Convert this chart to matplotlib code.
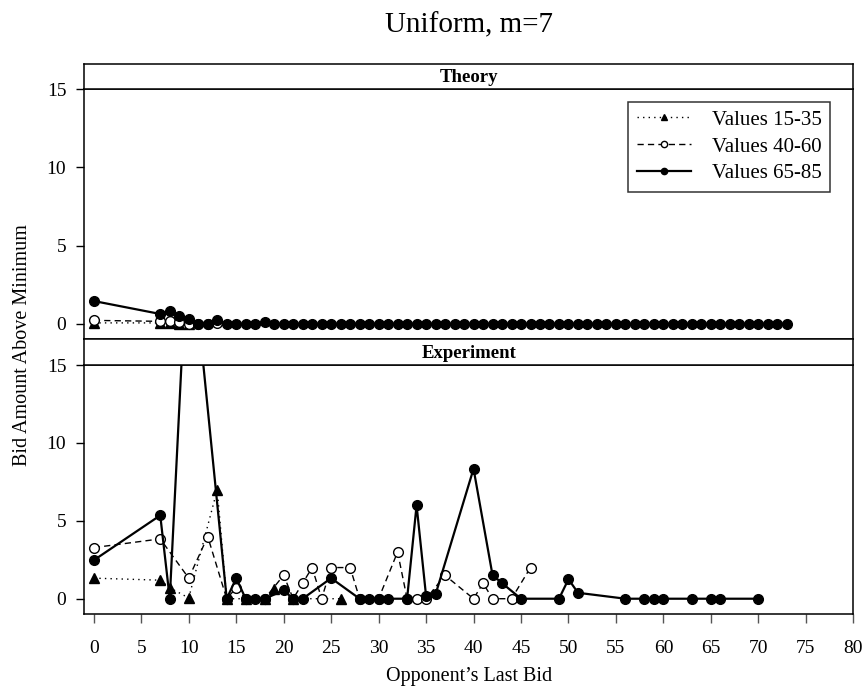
import matplotlib
matplotlib.use("Agg")
import matplotlib.pyplot as plt

plt.rcParams['font.family'] = ['Liberation Serif', 'DejaVu Serif']

series_names = ["Values 15-35", "Values 40-60", "Values 65-85"]
x_ticks = [0, 5, 10, 15, 20, 25, 30, 35, 40, 45, 50, 55, 60, 65, 70, 75, 80]
y_ticks = [0, 5, 10, 15]

# Theory panel
theory_x_low = [0, 7, 8, 9, 10]
theory_y_low = [0.05, 0.05, 0.05, 0.0, 0.0]
theory_x_mid = [0, 7, 8, 9, 10, 11, 12, 13]
theory_y_mid = [0.21, 0.15, 0.15, 0.08, 0.0, 0.0, 0.0, 0.05]
theory_x_high = [0, 7, 8, 9, 10, 11, 12, 13, 14, 15, 16, 17, 18,
                 19, 20, 21, 22, 23, 24, 25, 26, 27, 28, 29, 30, 31, 32,
                 33, 34, 35, 36, 37, 38, 39, 40, 41, 42, 43, 44, 45, 46,
                 47, 48, 49, 50, 51, 52, 53, 54, 55, 56, 57, 58, 59, 60,
                 61, 62, 63, 64, 65, 66, 67, 68, 69, 70, 71, 72, 73]
theory_y_high = [1.45, 0.62, 0.79, 0.47, 0.30, 0, 0, 0.26, 0, 0, 0, 0, 0.08,
                 0, 0, 0, 0, 0, 0, 0, 0, 0, 0, 0, 0, 0, 0,
                 0, 0, 0, 0, 0, 0, 0, 0, 0, 0, 0, 0, 0, 0,
                 0, 0, 0, 0, 0, 0, 0, 0, 0, 0, 0, 0, 0, 0,
                 0, 0, 0, 0, 0, 0, 0, 0, 0, 0, 0, 0, 0]

# Experiment panel
exp_x_low = [0, 7, 8, 10, 13, 14, 16, 18, 19, 21, 26]
exp_y_low = [1.32, 1.19, 0.7, 0.05, 7.0, 0, 0, 0, 0.6, 0, 0]
exp_x_mid = [0, 7, 10, 12, 14, 15, 16, 18, 20, 21, 22, 23, 24, 25, 27, 28,
             30, 32, 33, 34, 35, 37, 40, 41, 42, 44, 46]
exp_y_mid = [3.28, 3.84, 1.32, 3.99, 0, 0.7, 0, 0, 1.51, 0, 1.0, 2.0, 0, 2.0,
             2.0, 0, 0, 3.0, 0, 0, 0, 1.5, 0, 1.0, 0, 0, 2.0]
exp_x_high = [0, 7, 8, 10, 14, 15, 16, 17, 18, 20, 21, 22, 25, 28, 29, 30, 31,
              33, 34, 35, 36, 40, 42, 43, 45, 49, 50, 51, 56, 58, 59, 60, 63,
              65, 66, 70]
exp_y_high = [2.47, 5.35, 0, 24.4, 0, 1.32, 0, 0, 0, 0.53, 0, 0, 1.32, 0, 0,
              0, 0, 0, 6.0, 0.17, 0.28, 8.34, 1.51, 1.0, 0, 0, 1.25, 0.38, 0,
              0, 0, 0, 0, 0, 0, 0]

W, H = 867, 690
fig = plt.figure(figsize=(W / 100, H / 100), dpi=100)

def frac(x0, y0, x1, y1):
    return [x0 / W, 1 - y1 / H, (x1 - x0) / W, (y1 - y0) / H]

ax_top = fig.add_axes(frac(84.3, 89.3, 853.3, 339.3))
ax_bot = fig.add_axes(frac(84.3, 365, 853.3, 614.3))
strip_top = fig.add_axes(frac(84.3, 64, 853.3, 89.3))
strip_bot = fig.add_axes(frac(84.3, 339.3, 853.3, 365))

for strip, name in [(strip_top, "Theory"), (strip_bot, "Experiment")]:
    strip.set_xticks([])
    strip.set_yticks([])
    for sp in strip.spines.values():
        sp.set_linewidth(1.1)
    strip.text(0.5, 0.45, name, ha="center", va="center", fontsize=13.5,
               fontweight="bold", transform=strip.transAxes)

styles = [
    dict(linestyle=(0, (1, 3)), linewidth=1.0, marker="^", markersize=6.5,
         color="black", markerfacecolor="black"),
    dict(linestyle=(0, (4.5, 3)), linewidth=1.0, marker="o", markersize=7,
         color="black", markerfacecolor="white"),
    dict(linestyle="-", linewidth=1.6, marker="o", markersize=7,
         color="black", markerfacecolor="black"),
]

top_data = [(theory_x_low, theory_y_low), (theory_x_mid, theory_y_mid),
            (theory_x_high, theory_y_high)]
bot_data = [(exp_x_low, exp_y_low), (exp_x_mid, exp_y_mid),
            (exp_x_high, exp_y_high)]

for ax, data in [(ax_top, top_data), (ax_bot, bot_data)]:
    for (xs, ys), st, name in zip(data, styles, series_names):
        ax.plot(xs, ys, label=name, clip_on=True, **st)
    ax.set_xlim(-1, 80)
    ax.set_ylim(-1, 15)
    ax.set_yticks(y_ticks)
    ax.tick_params(axis="y", direction="out", length=6, width=1.0,
                   labelsize=14, pad=7)
    for sp in ax.spines.values():
        sp.set_linewidth(1.1)

ax_top.set_xticks([])
ax_bot.set_xticks(x_ticks)
ax_bot.tick_params(axis="x", direction="out", length=6.5, width=1.0,
                   labelsize=14, pad=12, color="#555555")
ax_bot.set_xlabel("Opponent\u2019s Last Bid", fontsize=14.5, labelpad=7)

leg = ax_top.legend(loc="upper right", bbox_to_anchor=(0.9697, 0.95),
                    borderaxespad=0, fontsize=15, frameon=True,
                    fancybox=False, edgecolor="black", handlelength=2.6,
                    labelspacing=0.35, borderpad=0.4, handletextpad=1.0)
leg.get_frame().set_linewidth(1.1)
for h in leg.legend_handles:
    h.set_markersize(4.5)

fig.text(23 / W, 1 - 345 / H, "Bid Amount Above Minimum", rotation=90,
         ha="center", va="center", fontsize=14.5)
fig.text(469 / W, 1 - 32 / H, "Uniform, m=7", ha="center", va="baseline",
         fontsize=21)

fig.savefig("out.png", dpi=100)
